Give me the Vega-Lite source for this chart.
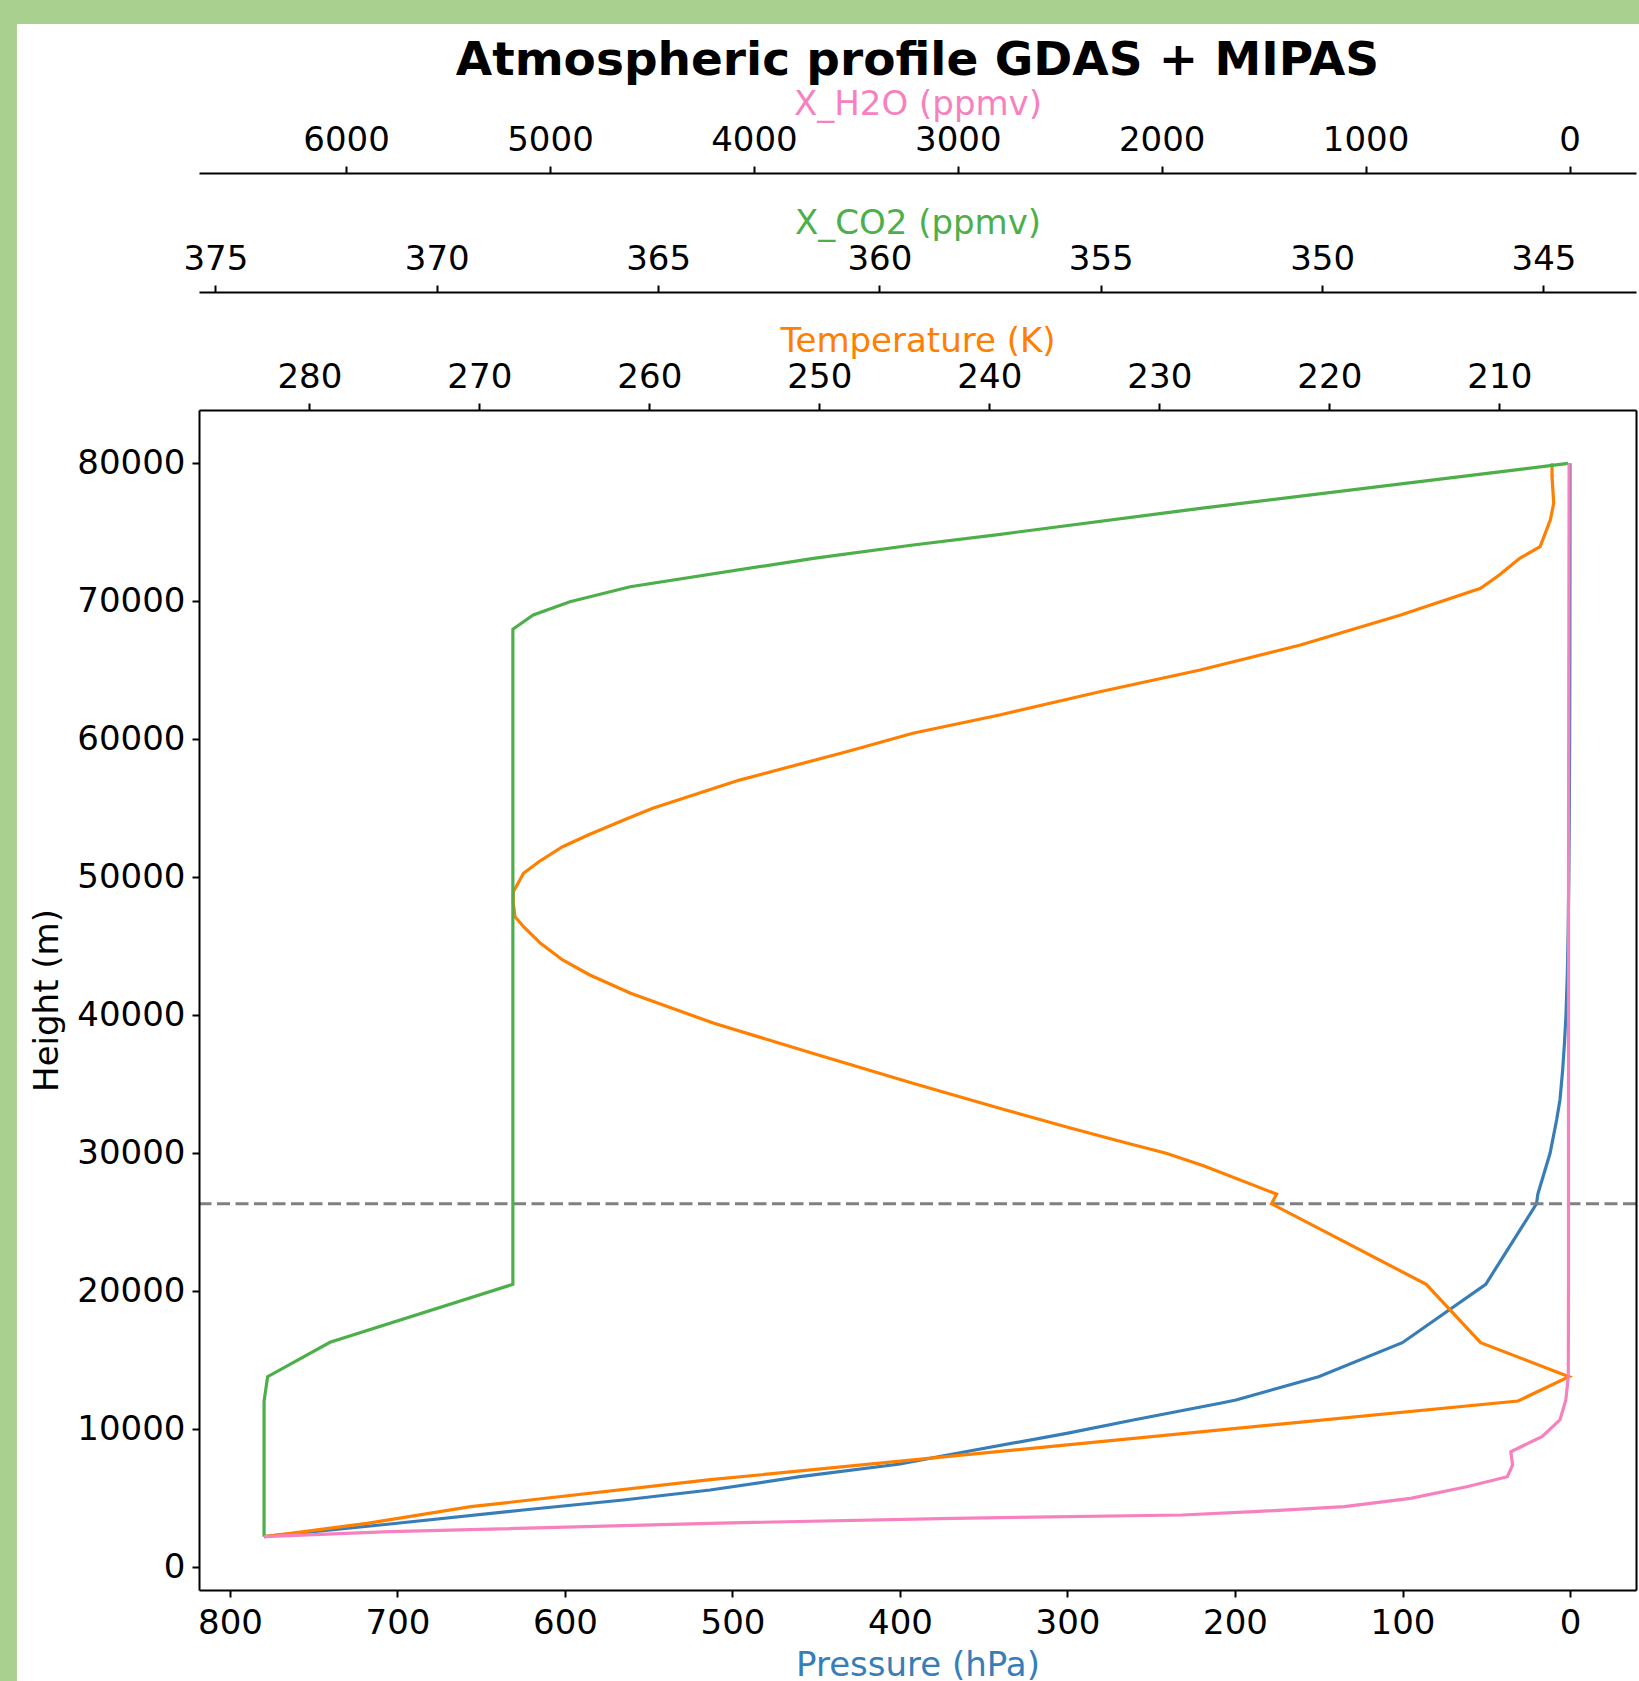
{
  "$schema": "https://vega.github.io/schema/vega-lite/v6.json",
  "width": 1437,
  "height": 1180,
  "autosize": {"type": "none"},
  "padding": {"left": 199, "top": 410, "right": 3, "bottom": 91},
  "background": "white",
  "config": {
    "view": {"stroke": null},
    "font": "DejaVu Sans",
    "axis": {
      "labelFont": "DejaVu Sans", "titleFont": "DejaVu Sans",
      "labelFontSize": 34, "titleFontSize": 34, "titleFontWeight": "normal",
      "labelColor": "black", "domainColor": "black", "tickColor": "black",
      "domainWidth": 2, "tickWidth": 2, "tickSize": 7, "labelPadding": 9,
      "grid": false, "labelFlush": false, "labelOverlap": false, "format": "d"
    }
  },
  "title": {
    "text": "Atmospheric profile GDAS + MIPAS",
    "font": "DejaVu Sans", "fontSize": 47, "fontWeight": "bold", "color": "black",
    "anchor": "middle", "frame": "group", "offset": -85
  },
  "datasets": {
    "pressure": [
      {"height_m": 2217, "pressure_hPa": 779.7}, {"height_m": 3138, "pressure_hPa": 704.5},
      {"height_m": 4152, "pressure_hPa": 624.9}, {"height_m": 4877, "pressure_hPa": 565.2},
      {"height_m": 5601, "pressure_hPa": 513.4}, {"height_m": 6565, "pressure_hPa": 459.7},
      {"height_m": 7486, "pressure_hPa": 400.0}, {"height_m": 8087, "pressure_hPa": 374.0},
      {"height_m": 9710, "pressure_hPa": 300.5},
      {"height_m": 10674, "pressure_hPa": 260.7}, {"height_m": 11884, "pressure_hPa": 208.9},
      {"height_m": 12123, "pressure_hPa": 199.4}, {"height_m": 13812, "pressure_hPa": 150.1},
      {"height_m": 16275, "pressure_hPa": 100.1}, {"height_m": 20507, "pressure_hPa": 50.3},
      {"height_m": 26340, "pressure_hPa": 20.0}, {"height_m": 27040, "pressure_hPa": 19.2},
      {"height_m": 27580, "pressure_hPa": 17.9}, {"height_m": 30000, "pressure_hPa": 11.9},
      {"height_m": 32413, "pressure_hPa": 8.0}, {"height_m": 33862, "pressure_hPa": 6.0},
      {"height_m": 36000, "pressure_hPa": 4.4}, {"height_m": 38000, "pressure_hPa": 3.3},
      {"height_m": 40000, "pressure_hPa": 2.4}, {"height_m": 43000, "pressure_hPa": 1.6},
      {"height_m": 46000, "pressure_hPa": 1.1}, {"height_m": 50000, "pressure_hPa": 0.7},
      {"height_m": 55000, "pressure_hPa": 0.4}, {"height_m": 60000, "pressure_hPa": 0.2},
      {"height_m": 65000, "pressure_hPa": 0.11}, {"height_m": 70000, "pressure_hPa": 0.06},
      {"height_m": 75000, "pressure_hPa": 0.03}, {"height_m": 80000, "pressure_hPa": 0.01}
    ],
    "temperature": [
      {"height_m": 2217, "temperature_K": 282.66}, {"height_m": 2464, "temperature_K": 281.1},
      {"height_m": 3188, "temperature_K": 276.6}, {"height_m": 4391, "temperature_K": 270.5},
      {"height_m": 6348, "temperature_K": 256.4}, {"height_m": 12051, "temperature_K": 208.9},
      {"height_m": 13812, "temperature_K": 205.9}, {"height_m": 16275, "temperature_K": 211.1},
      {"height_m": 20507, "temperature_K": 214.3}, {"height_m": 26340, "temperature_K": 223.4},
      {"height_m": 27040, "temperature_K": 223.1}, {"height_m": 29100, "temperature_K": 227.4},
      {"height_m": 30000, "temperature_K": 229.6}, {"height_m": 30964, "temperature_K": 232.6},
      {"height_m": 31928, "temperature_K": 235.5}, {"height_m": 33261, "temperature_K": 239.4},
      {"height_m": 35072, "temperature_K": 244.5}, {"height_m": 37246, "temperature_K": 250.4},
      {"height_m": 39420, "temperature_K": 256.2}, {"height_m": 41594, "temperature_K": 261.1},
      {"height_m": 42920, "temperature_K": 263.5}, {"height_m": 44007, "temperature_K": 265.1},
      {"height_m": 45217, "temperature_K": 266.4}, {"height_m": 46420, "temperature_K": 267.4},
      {"height_m": 47145, "temperature_K": 267.9}, {"height_m": 48116, "temperature_K": 268.0},
      {"height_m": 48957, "temperature_K": 268.0}, {"height_m": 50290, "temperature_K": 267.4},
      {"height_m": 51130, "temperature_K": 266.5}, {"height_m": 52217, "temperature_K": 265.1},
      {"height_m": 53065, "temperature_K": 263.6}, {"height_m": 54152, "temperature_K": 261.5},
      {"height_m": 55000, "temperature_K": 259.8}, {"height_m": 57043, "temperature_K": 254.7},
      {"height_m": 59101, "temperature_K": 248.4}, {"height_m": 60435, "temperature_K": 244.5},
      {"height_m": 61761, "temperature_K": 239.4}, {"height_m": 63449, "temperature_K": 233.5},
      {"height_m": 65022, "temperature_K": 227.6}, {"height_m": 66833, "temperature_K": 221.7},
      {"height_m": 69007, "temperature_K": 215.8}, {"height_m": 70942, "temperature_K": 211.1},
      {"height_m": 71906, "temperature_K": 210.0}, {"height_m": 73116, "temperature_K": 208.8},
      {"height_m": 73957, "temperature_K": 207.6}, {"height_m": 75891, "temperature_K": 207.0},
      {"height_m": 77101, "temperature_K": 206.8}, {"height_m": 79029, "temperature_K": 206.9},
      {"height_m": 80000, "temperature_K": 206.9}
    ],
    "co2": [
      {"height_m": 2217, "co2_ppmv": 373.90}, {"height_m": 12051, "co2_ppmv": 373.90},
      {"height_m": 13812, "co2_ppmv": 373.82}, {"height_m": 16304, "co2_ppmv": 372.41},
      {"height_m": 20507, "co2_ppmv": 368.28}, {"height_m": 67971, "co2_ppmv": 368.28},
      {"height_m": 69007, "co2_ppmv": 367.82}, {"height_m": 69971, "co2_ppmv": 366.99},
      {"height_m": 71058, "co2_ppmv": 365.63}, {"height_m": 73116, "co2_ppmv": 361.49},
      {"height_m": 74080, "co2_ppmv": 359.24}, {"height_m": 74855, "co2_ppmv": 357.27},
      {"height_m": 76739, "co2_ppmv": 352.75}, {"height_m": 79565, "co2_ppmv": 345.53},
      {"height_m": 80000, "co2_ppmv": 344.44}
    ],
    "h2o": [
      {"height_m": 2217, "h2o_ppmv": 6402}, {"height_m": 2580, "h2o_ppmv": 5785},
      {"height_m": 3188, "h2o_ppmv": 4215}, {"height_m": 3551, "h2o_ppmv": 3022},
      {"height_m": 3790, "h2o_ppmv": 1900}, {"height_m": 4029, "h2o_ppmv": 1548},
      {"height_m": 4391, "h2o_ppmv": 1105}, {"height_m": 5000, "h2o_ppmv": 780},
      {"height_m": 5841, "h2o_ppmv": 504}, {"height_m": 6565, "h2o_ppmv": 305},
      {"height_m": 7413, "h2o_ppmv": 279}, {"height_m": 8377, "h2o_ppmv": 288},
      {"height_m": 9464, "h2o_ppmv": 135}, {"height_m": 10674, "h2o_ppmv": 47},
      {"height_m": 12123, "h2o_ppmv": 18}, {"height_m": 13812, "h2o_ppmv": 6},
      {"height_m": 20000, "h2o_ppmv": 5}, {"height_m": 30000, "h2o_ppmv": 5},
      {"height_m": 40000, "h2o_ppmv": 5}, {"height_m": 50000, "h2o_ppmv": 5},
      {"height_m": 60000, "h2o_ppmv": 4}, {"height_m": 70000, "h2o_ppmv": 3},
      {"height_m": 80000, "h2o_ppmv": 2}
    ],
    "frame_bands": [
      {"band": "left", "p_from": 1000, "p_to": 927.2, "h_from": -20000, "h_to": 113572},
      {"band": "top", "p_from": 1000, "p_to": -100, "h_from": 111833, "h_to": 113572}
    ]
  },
  "layer": [
    {
      "data": {"name": "frame_bands"},
      "mark": {"type": "rect", "color": "#a9d08e", "clip": false},
      "encoding": {
        "x": {"field": "p_from", "type": "quantitative", "scale": {"domain": [-39.4, 818.5], "reverse": true, "nice": false, "zero": false}, "axis": null},
        "x2": {"field": "p_to"},
        "y": {"field": "h_from", "type": "quantitative", "scale": {"domain": [-1645, 83862], "nice": false, "zero": false}, "axis": null},
        "y2": {"field": "h_to"}
      }
    },
    {
      "data": {"name": "pressure"},
      "mark": {"type": "line", "color": "#377eb8", "strokeWidth": 3.2},
      "encoding": {
        "x": {"field": "pressure_hPa", "type": "quantitative",
              "scale": {"domain": [-39.4, 818.5], "reverse": true, "nice": false, "zero": false},
              "axis": {"orient": "bottom", "zindex": 1, "title": "Pressure (hPa)", "titleColor": "#377eb8", "values": [0, 100, 200, 300, 400, 500, 600, 700, 800], "titlePadding": 8}},
        "y": {"field": "height_m", "type": "quantitative",
              "scale": {"domain": [-1645, 83862], "nice": false, "zero": false},
              "axis": {"orient": "left", "zindex": 1, "title": "Height (m)", "titleColor": "black", "values": [0, 10000, 20000, 30000, 40000, 50000, 60000, 70000, 80000], "labelPadding": 7, "titlePadding": 12}},
        "order": {"field": "height_m", "type": "quantitative"}
      }
    },
    {
      "data": {"values": [{"gdas_top_m": 26340}]},
      "mark": {"type": "rule", "color": "#808080", "strokeWidth": 3, "strokeDash": [13, 5.5]},
      "encoding": {
        "y": {"field": "gdas_top_m", "type": "quantitative", "scale": {"domain": [-1645, 83862], "nice": false, "zero": false}, "axis": null}
      }
    },
    {
      "data": {"name": "temperature"},
      "mark": {"type": "line", "color": "#ff7f00", "strokeWidth": 3.2},
      "encoding": {
        "x": {"field": "temperature_K", "type": "quantitative",
              "scale": {"domain": [201.96, 286.49], "reverse": true, "nice": false, "zero": false},
              "axis": {"orient": "top", "zindex": 1, "offset": 0, "title": "Temperature (K)", "titleColor": "#ff7f00", "values": [210, 220, 230, 240, 250, 260, 270, 280], "titlePadding": 2}},
        "y": {"field": "height_m", "type": "quantitative", "scale": {"domain": [-1645, 83862], "nice": false, "zero": false}, "axis": null},
        "order": {"field": "height_m", "type": "quantitative"}
      }
    },
    {
      "data": {"name": "co2"},
      "mark": {"type": "line", "color": "#4daf4a", "strokeWidth": 3.2},
      "encoding": {
        "x": {"field": "co2_ppmv", "type": "quantitative",
              "scale": {"domain": [342.91, 375.37], "reverse": true, "nice": false, "zero": false},
              "axis": {"orient": "top", "zindex": 1, "offset": 118, "title": "X_CO2 (ppmv)", "titleColor": "#4daf4a", "values": [345, 350, 355, 360, 365, 370, 375], "titlePadding": 2}},
        "y": {"field": "height_m", "type": "quantitative", "scale": {"domain": [-1645, 83862], "nice": false, "zero": false},
              "axis": {"orient": "right", "zindex": 1, "title": null, "labels": false, "ticks": false, "domain": true}},
        "order": {"field": "height_m", "type": "quantitative"}
      }
    },
    {
      "data": {"name": "h2o"},
      "mark": {"type": "line", "color": "#f781bf", "strokeWidth": 3.2},
      "encoding": {
        "x": {"field": "h2o_ppmv", "type": "quantitative",
              "scale": {"domain": [-326.1, 6721.4], "reverse": true, "nice": false, "zero": false},
              "axis": {"orient": "top", "zindex": 1, "offset": 237, "title": "X_H2O (ppmv)", "titleColor": "#f781bf", "values": [0, 1000, 2000, 3000, 4000, 5000, 6000], "titlePadding": 2}},
        "y": {"field": "height_m", "type": "quantitative", "scale": {"domain": [-1645, 83862], "nice": false, "zero": false}, "axis": null},
        "order": {"field": "height_m", "type": "quantitative"}
      }
    }
  ],
  "resolve": {"scale": {"x": "independent"}, "axis": {"x": "independent", "y": "independent"}}
}
